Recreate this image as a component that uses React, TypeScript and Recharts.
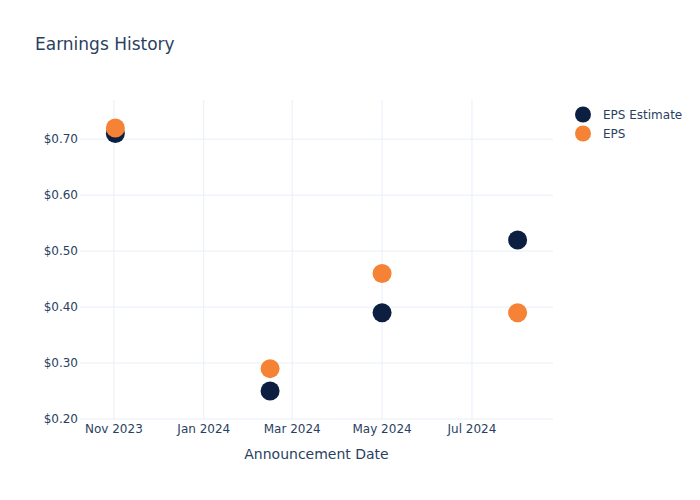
import { ScatterChart, Scatter, XAxis, YAxis, CartesianGrid } from "recharts";

const announceDates = ["2023-11-02", "2024-02-15", "2024-05-01", "2024-08-01"];
const epsEstimate = [0.71, 0.25, 0.39, 0.52];
const epsActual = [0.72, 0.29, 0.46, 0.39];
const xTickDates = ["2023-11-01", "2024-01-01", "2024-03-01", "2024-05-01", "2024-07-01"];
const yTicks = [0.2, 0.3, 0.4, 0.5, 0.6, 0.7];

const MONTHS = ["Jan", "Feb", "Mar", "Apr", "May", "Jun", "Jul", "Aug", "Sep", "Oct", "Nov", "Dec"];
const toTs = (d: string) => Date.parse(d + "T00:00:00Z");
const xTicks = xTickDates.map(toTs);

const estimateData = announceDates.map((d, i) => ({ date: toTs(d), value: epsEstimate[i] }));
const actualData = announceDates.map((d, i) => ({ date: toTs(d), value: epsActual[i] }));

const NAVY = "#0c1f40";
const ORANGE = "#f58235";
const TEXT = "#2a3f5f";
const FONT = "'DejaVu Sans', Verdana, sans-serif";

const dot = (color: string) => (props: any) => (
  <circle cx={props.cx} cy={props.cy} r={9.5} fill={color} />
);

const legendItems = [
  { name: "EPS Estimate", color: NAVY },
  { name: "EPS", color: ORANGE },
];

function LegendBox() {
  return (
    <div
      style={{
        position: "absolute",
        left: 575,
        top: 105,
        fontFamily: FONT,
        fontSize: 12,
        color: TEXT,
      }}
    >
      {legendItems.map((it) => (
        <div key={it.name} style={{ display: "flex", alignItems: "center", height: 19 }}>
          <svg width={28} height={19}>
            <circle cx={8} cy={9.5} r={8} fill={it.color} />
          </svg>
          <span>{it.name}</span>
        </div>
      ))}
    </div>
  );
}

export default function App() {
  return (
    <div style={{ position: "absolute", left: 0, top: 0, width: 700, height: 500, background: "#fff" }}>
      <div
        style={{
          position: "absolute",
          left: 35,
          top: 34,
          fontFamily: FONT,
          fontSize: 17,
          color: TEXT,
        }}
      >
        Earnings History
      </div>
      <ScatterChart width={700} height={500} margin={{ top: 100, right: 147, bottom: 51, left: 0 }}>
        <CartesianGrid stroke="#e9eef7" strokeWidth={1} syncWithTicks />
        <XAxis
          type="number"
          dataKey="date"
          domain={[toTs("2023-10-09"), toTs("2024-08-25")]}
          ticks={xTicks}
          tickFormatter={(v: number) => {
            const d = new Date(v);
            return `${MONTHS[d.getUTCMonth()]} ${d.getUTCFullYear()}`;
          }}
          axisLine={false}
          tickLine={false}
          tickSize={0}
          tickMargin={5}
          height={30}
          tick={{ fill: TEXT, fontSize: 12, fontFamily: FONT }}
          label={{
            value: "Announcement Date",
            position: "bottom",
            offset: 0,
            fill: TEXT,
            fontSize: 14,
            fontFamily: FONT,
          }}
        />
        <YAxis
          type="number"
          dataKey="value"
          domain={[0.2, 0.77]}
          ticks={yTicks}
          tickFormatter={(v: number) => `$${v.toFixed(2)}`}
          axisLine={false}
          tickLine={false}
          tickSize={0}
          tickMargin={2}
          width={80}
          tick={{ fill: TEXT, fontSize: 12, fontFamily: FONT }}
        />
        <Scatter
          name="EPS Estimate"
          data={estimateData}
          fill={NAVY}
          shape={dot(NAVY)}
          isAnimationActive={false}
        />
        <Scatter
          name="EPS"
          data={actualData}
          fill={ORANGE}
          shape={dot(ORANGE)}
          isAnimationActive={false}
        />
      </ScatterChart>
      <LegendBox />
    </div>
  );
}
